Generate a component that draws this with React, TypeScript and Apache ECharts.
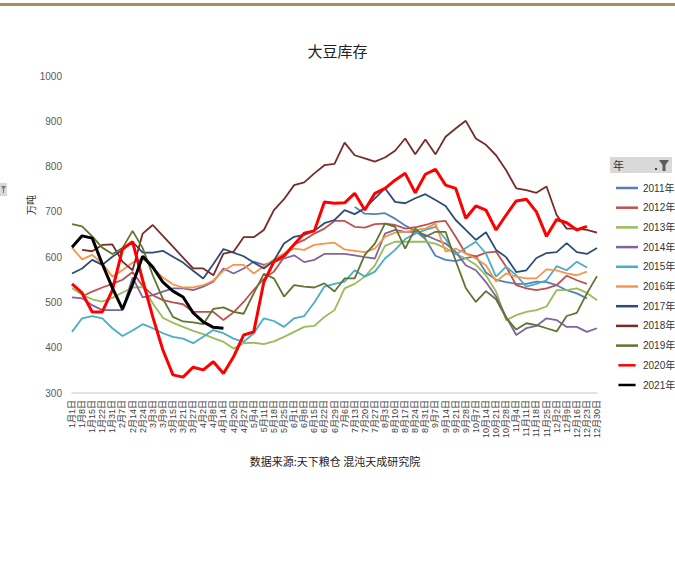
import React, { useEffect, useRef } from "react";
import * as echarts from "echarts";

const dates = ["1月1日","1月8日","1月15日","1月22日","1月31日","2月7日","2月14日","2月24日","3月3日","3月9日","3月15日","3月21日","3月27日","4月2日","4月8日","4月14日","4月20日","4月27日","5月4日","5月11日","5月18日","5月25日","6月1日","6月8日","6月15日","6月22日","6月29日","7月6日","7月13日","7月20日","7月27日","8月3日","8月10日","8月17日","8月24日","8月31日","9月7日","9月14日","9月21日","9月28日","10月7日","10月14日","10月21日","10月28日","11月4日","11月11日","11月18日","11月25日","12月2日","12月9日","12月16日","12月23日","12月30日"];

const N = null;
const y2011 = [N,N,N,N,N,N,N,N,N,N,N,N,N,N,N,N,N,N,N,N,N,N,N,N,N,N,N,N,711,696,695,697,685,670,658,640,603,594,591,598,602,566,550,545,541,541,546,545,538,527,520,509,N];
const y2012 = [N,513,524,533,541,550,567,536,516,505,500,496,479,479,479,461,478,501,528,552,568,600,628,638,652,663,680,680,667,665,673,674,671,663,666,671,678,680,645,608,601,610,612,579,538,531,527,531,538,559,549,541,N];
const y2013 = [532,517,507,502,510,522,533,534,498,466,455,446,437,430,421,413,398,410,411,408,414,424,435,446,448,468,483,531,541,557,582,625,634,634,634,634,630,620,607,597,583,560,524,461,472,479,483,491,527,527,531,521,505];
const y2014 = [511,509,494,483,483,483,555,511,516,524,531,531,527,535,546,575,564,575,590,583,590,597,604,589,594,607,607,607,604,600,597,652,660,656,656,649,639,630,612,582,571,545,513,468,428,443,448,465,461,446,446,435,443];
const y2015 = [435,465,470,465,443,426,438,452,443,432,424,420,410,424,439,432,420,413,432,465,459,446,465,470,500,535,541,546,571,557,568,597,616,640,652,660,667,640,606,620,634,608,557,579,560,535,541,549,580,571,590,577,N];
const y2016 = [621,595,605,586,557,571,588,597,577,555,540,533,533,538,548,570,583,583,564,580,595,608,619,616,627,630,632,617,614,611,619,645,654,656,660,663,674,612,619,608,597,582,546,564,557,553,553,573,571,564,560,568,N];
const y2017 = [564,575,594,583,601,616,634,610,610,614,601,588,570,553,585,618,610,602,588,575,592,630,645,649,658,675,682,704,695,708,730,752,722,719,730,739,726,713,682,660,638,655,616,600,567,571,598,609,611,631,611,607,620];
const y2018 = [N,616,613,627,628,590,571,652,671,647,623,599,575,575,560,608,612,644,644,660,704,728,759,765,785,803,806,853,825,818,811,820,835,862,827,860,827,866,884,901,862,848,825,792,752,748,742,756,693,663,663,660,654];
const y2019 = [673,668,646,621,607,620,658,620,560,508,468,458,456,452,486,489,479,475,520,563,553,513,538,535,533,542,524,553,553,605,630,674,667,619,663,645,656,656,592,532,501,525,507,466,440,454,450,443,436,470,477,520,558];
const y2020 = [541,521,479,479,527,618,634,549,468,395,340,335,357,351,369,343,380,428,435,545,590,603,628,653,658,722,719,720,741,704,741,752,770,785,742,783,794,759,752,686,713,704,660,693,724,728,700,646,683,676,660,668,N];
const y2021 = [622,647,642,585,532,485,540,602,578,545,525,512,477,457,445,443];

const yearNames = ["2011年","2012年","2013年","2014年","2015年","2016年","2017年","2018年","2019年","2020年","2021年"];
const yearData = [y2011,y2012,y2013,y2014,y2015,y2016,y2017,y2018,y2019,y2020,y2021];
const yearColors = ["#4F81BD","#C0504D","#9BBB59","#8064A2","#4BACC6","#F79646","#2C4D75","#772C2A","#5F7530","#FF0000","#000000"];
const yearWidths = [1.8,1.8,1.8,1.8,1.8,1.8,1.8,1.8,1.8,3,3];

const FONT = "'Liberation Sans', 'Noto Sans CJK SC', sans-serif";
const CJK = "'Noto Sans CJK SC', sans-serif";

export default function App() {
  const ref = useRef<HTMLDivElement>(null);
  useEffect(() => {
    if (!ref.current) return;
    const chart = echarts.init(ref.current, undefined, { renderer: "svg" });
    chart.setOption({
      animation: false,
      backgroundColor: "#ffffff",
      title: {
        text: "大豆库存",
        left: "center",
        top: 38,
        textStyle: { fontSize: 15, fontWeight: "normal", color: "#222", fontFamily: CJK },
      },
      legend: {
        orient: "vertical",
        left: 611,
        top: 176,
        itemWidth: 22,
        itemHeight: 2.5,
        itemGap: 5.7,
        icon: "rect",
        data: yearNames.map((name, i) => ({
          name,
          itemStyle: { color: yearColors[i] },
          icon: yearWidths[i] > 2 ? "path://M0,0 H22 V3.2 H0 Z" : "rect",
        })),
        textStyle: { fontSize: 10, color: "#333", fontFamily: FONT, lineHeight: 14 },
      },
      grid: { left: 72, right: 78, top: 76, bottom: 171, containLabel: false },
      xAxis: {
        type: "category",
        data: dates,
        boundaryGap: false,
        axisLine: { show: true, lineStyle: { color: "#D9D9D9", width: 1.5 } },
        axisTick: { show: false },
        splitLine: { show: false },
        axisLabel: { interval: 0, rotate: 90, fontSize: 9, color: "#404040", margin: 7, fontFamily: FONT },
      },
      yAxis: {
        type: "value",
        min: 300,
        max: 1000,
        interval: 100,
        axisLine: { show: false },
        axisTick: { show: false },
        splitLine: { show: false },
        axisLabel: { fontSize: 10, color: "#595959", margin: 10, fontFamily: FONT, formatter: (v: number) => String(v) },
      },
      series: yearNames.map((name, i) => ({
        name,
        type: "line",
        data: yearData[i],
        symbol: "none",
        showSymbol: false,
        connectNulls: false,
        lineStyle: { color: yearColors[i], width: yearWidths[i] },
        itemStyle: { color: yearColors[i] },
        emphasis: { disabled: true },
        z: 2 + i,
      })),
      graphic: [
        { type: "rect", shape: { x: 0, y: 3, width: 675, height: 3 }, style: { fill: "#A88F5E" } },
        { type: "rect", shape: { x: 610, y: 157, width: 62, height: 16 }, style: { fill: "#D9D9D9" } },
        { type: "text", x: 613, y: 165, style: { text: "年", fontSize: 11, fill: "#333", fontFamily: CJK, verticalAlign: "middle" } },
        { type: "rect", shape: { x: 655, y: 168, width: 2, height: 2 }, style: { fill: "#444" } },
        { type: "polygon", shape: { points: [[659, 160], [669, 160], [665.5, 165], [665.5, 171], [662.5, 171], [662.5, 165]] }, style: { fill: "#5A5A5A" } },
        { type: "rect", shape: { x: 0, y: 183, width: 7, height: 13 }, style: { fill: "#D9D9D9" } },
        { type: "polygon", shape: { points: [[1, 186], [6, 186], [4, 189], [4, 193], [3, 193], [3, 189]] }, style: { fill: "#777" } },
        { type: "text", x: 30, y: 205, rotation: Math.PI / 2, style: { text: "万吨", fontSize: 10, fill: "#333", fontFamily: CJK, align: "center", verticalAlign: "middle" } },
        { type: "text", x: 335, y: 461, style: { text: "数据来源:天下粮仓 混沌天成研究院", fontSize: 11, fill: "#222", fontFamily: CJK, align: "center", verticalAlign: "middle" } },
      ],
    });
    return () => chart.dispose();
  }, []);
  return <div ref={ref} style={{ position: "fixed", left: 0, top: 0, width: 675, height: 564 }} />;
}
